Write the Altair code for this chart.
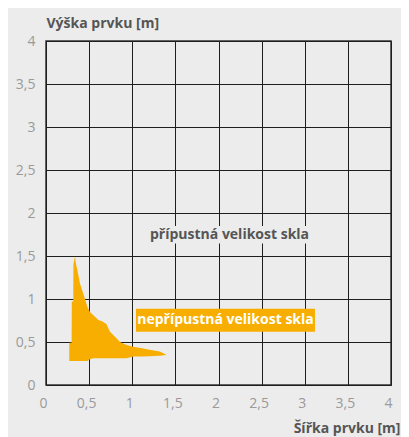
import altair as alt
import pandas as pd

# Area of non-permissible glass sizes (width [m] -> height range [m])
area_x = [0.27, 0.297, 0.299, 0.316, 0.318, 0.336, 0.345, 0.363, 0.394, 0.425, 0.452,
          0.479, 0.51, 0.549, 0.607, 0.65, 0.70, 0.742, 0.80, 0.858, 0.935, 1.01,
          1.10, 1.20, 1.32, 1.39]
area_top = [0.49, 0.49, 0.97, 0.97, 1.40, 1.50, 1.42, 1.34, 1.18, 1.085, 1.0,
            0.91, 0.85, 0.81, 0.755, 0.74, 0.71, 0.62, 0.56, 0.50, 0.465, 0.445,
            0.43, 0.41, 0.39, 0.355]
area_bottom = [0.28, 0.28, 0.28, 0.28, 0.28, 0.28, 0.28, 0.28, 0.28, 0.28, 0.28,
               0.28, 0.30, 0.31, 0.31, 0.31, 0.31, 0.31, 0.31, 0.31, 0.31, 0.33,
               0.33, 0.335, 0.34, 0.35]

label_text = ["přípustná velikost skla", "nepřípustná velikost skla"]
label_x = [2.128, 2.081]
label_y = [1.747, 0.752]
label_color = ["#555555", "#ffffff"]
label_box = ["#ececec", "#f8ae00"]

ticks = [0, 0.5, 1, 1.5, 2, 2.5, 3, 3.5, 4]

area_df = pd.DataFrame({"x": area_x, "top": area_top, "bottom": area_bottom})
lab_df = pd.DataFrame({"t": label_text, "x": label_x, "y": label_y,
                       "c": label_color, "b": label_box})

FONT = "Open Sans"

xscale = alt.Scale(domain=[0, 4], nice=False)
yscale = alt.Scale(domain=[0, 4], nice=False)

xaxis = alt.Axis(values=ticks, title="Šířka prvku [m]", format="~g",
                 labelExpr="replace(datum.label, '.', ',')", labelFlush=False,
                 labelOffset=-3,
                 titleX=354, titleY=47, titleAlign="right", titleAnchor="end",
                 titleBaseline="alphabetic", labelPadding=11)
yaxis = alt.Axis(values=ticks, title="Výška prvku [m]", format="~g",
                 labelExpr="replace(datum.label, '.', ',')", labelFlush=False,
                 titleAngle=0, titleX=0, titleY=-14, titleAlign="left",
                 titleBaseline="alphabetic", labelPadding=11)

area = alt.Chart(area_df).mark_area(color="#f8ae00", interpolate="linear").encode(
    x=alt.X("x:Q", scale=xscale, axis=xaxis),
    y=alt.Y("top:Q", scale=yscale, axis=yaxis),
    y2="bottom:Q",
)

box_light = alt.Chart(lab_df.iloc[[0]]).mark_point(
    shape="M-1,-0.11L1,-0.11L1,0.11L-1,0.11Z", filled=True, opacity=1,
    size=158 * 158, strokeWidth=0
).encode(
    x=alt.X("x:Q", scale=xscale),
    y=alt.Y("y:Q", scale=yscale),
    color=alt.Color("b:N", scale=None),
)

box_orange = alt.Chart(lab_df.iloc[[1]]).mark_point(
    shape="M-1,-0.1285L1,-0.1285L1,0.1285L-1,0.1285Z", filled=True, opacity=1,
    size=179 * 179, strokeWidth=0
).encode(
    x=alt.X("x:Q", scale=xscale),
    y=alt.Y("y:Q", scale=yscale),
    color=alt.Color("b:N", scale=None),
)

texts = alt.Chart(lab_df).mark_text(
    font=FONT, fontSize=14, fontWeight="bold", align="center", baseline="middle"
).encode(
    x=alt.X("x:Q", scale=xscale),
    y=alt.Y("y:Q", scale=yscale),
    text="t:N",
    color=alt.Color("c:N", scale=None),
)

chart = alt.layer(area, box_light, box_orange, texts).properties(
    width=345, height=344,
    autosize=alt.AutoSizeParams(type="none"),
    padding={"left": 38, "top": 33, "right": 10, "bottom": 52},
    background="#ececec",
).configure_view(
    stroke="#333333", strokeWidth=1.5
).configure_axis(
    domain=False, ticks=False, grid=True, gridColor="#1e1e1e", gridWidth=1,
    labelFont=FONT, labelFontSize=14, labelColor="#9a9a9a",
    titleFont=FONT, titleFontSize=14, titleFontWeight="bold", titleColor="#555555",
)

chart.save("out.html", embed_options={"renderer": "svg", "actions": False})
